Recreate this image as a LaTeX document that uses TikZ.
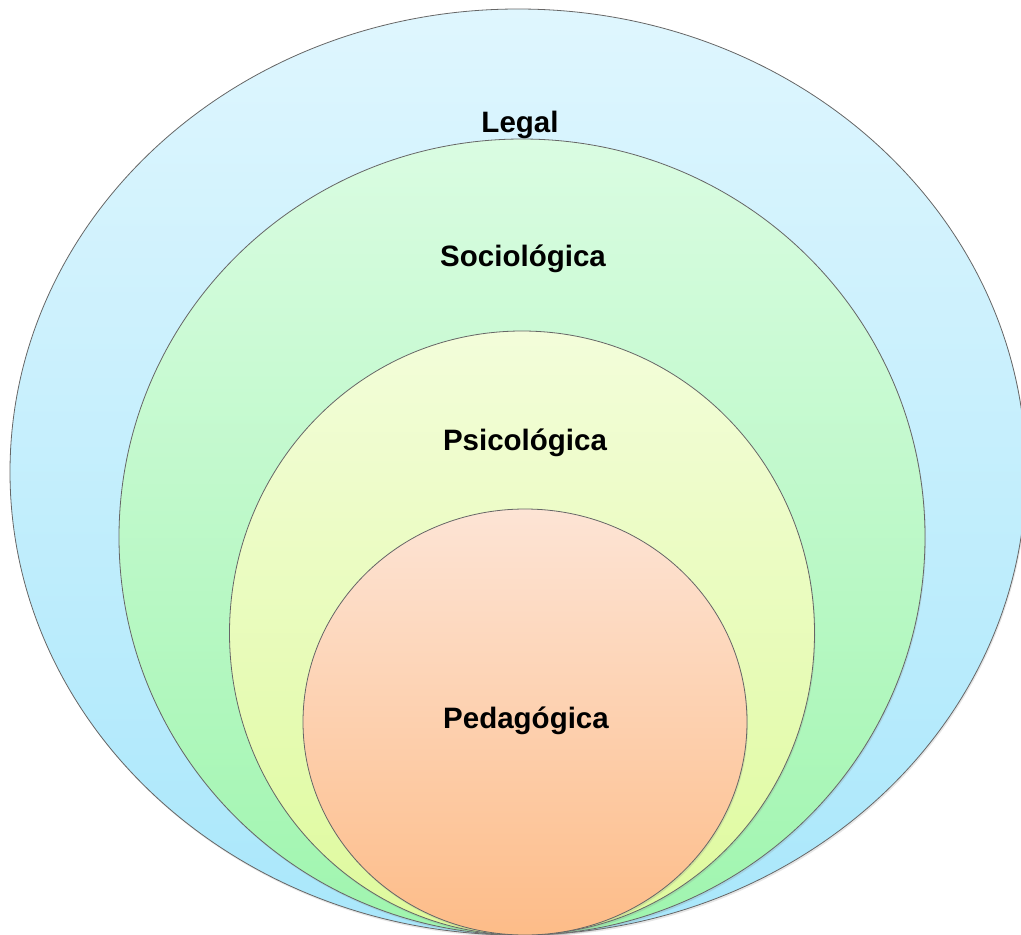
\documentclass[tikz,border=0pt]{standalone}
\usepackage{fontspec}
\setmainfont{Liberation Sans}
\usetikzlibrary{shapes.geometric,shadows}

\definecolor{legaltop}{HTML}{DFF6FE}
\definecolor{legalbot}{HTML}{A9E7FB}
\definecolor{sociotop}{HTML}{DAFCE2}
\definecolor{sociobot}{HTML}{9FF5AE}
\definecolor{psicotop}{HTML}{F3FDDA}
\definecolor{psicobot}{HTML}{DEFA9C}
\definecolor{pedagotop}{HTML}{FDE4D5}
\definecolor{pedagobot}{HTML}{FDBC88}

\begin{document}
\begin{tikzpicture}[
     x = 1pt, y = -1pt,
     ring/.style = {ellipse, draw = black!60, line width = 0.8pt, inner sep = 0pt,
                    drop shadow = {opacity = 0.2, shadow xshift = 1pt, shadow yshift = -2pt}},
     ringlabel/.style = {font = \fontsize{29.5}{33}\selectfont\bfseries}
    ]
    \useasboundingbox (0,0) rectangle (1021,935);
    \clip (0,0) rectangle (1021,935);

    % rings, outer to inner
    \node[ring, top color = legaltop, bottom color = legalbot,
          minimum width = 1016pt, minimum height = 926pt] (legal) at (518,472) {};
    \node[ring, top color = sociotop, bottom color = sociobot,
          minimum width = 806pt, minimum height = 796pt] (socio) at (522,537) {};
    \node[ring, top color = psicotop, bottom color = psicobot,
          minimum width = 585pt, minimum height = 604pt] (psico) at (522,633) {};
    \node[ring, top color = pedagotop, bottom color = pedagobot,
          minimum width = 444pt, minimum height = 426pt] (pedago) at (525,722) {};

    % labels
    \node[ringlabel] (legaltext) at (520,125) {Legal};
    \node[ringlabel] (sociotext) at (523,259) {Sociológica};
    \node[ringlabel] (psicotext) at (525,443) {Psicológica};
    \node[ringlabel] (pedagotext) at (526,721) {Pedagógica};

   \end{tikzpicture}
\end{document}
